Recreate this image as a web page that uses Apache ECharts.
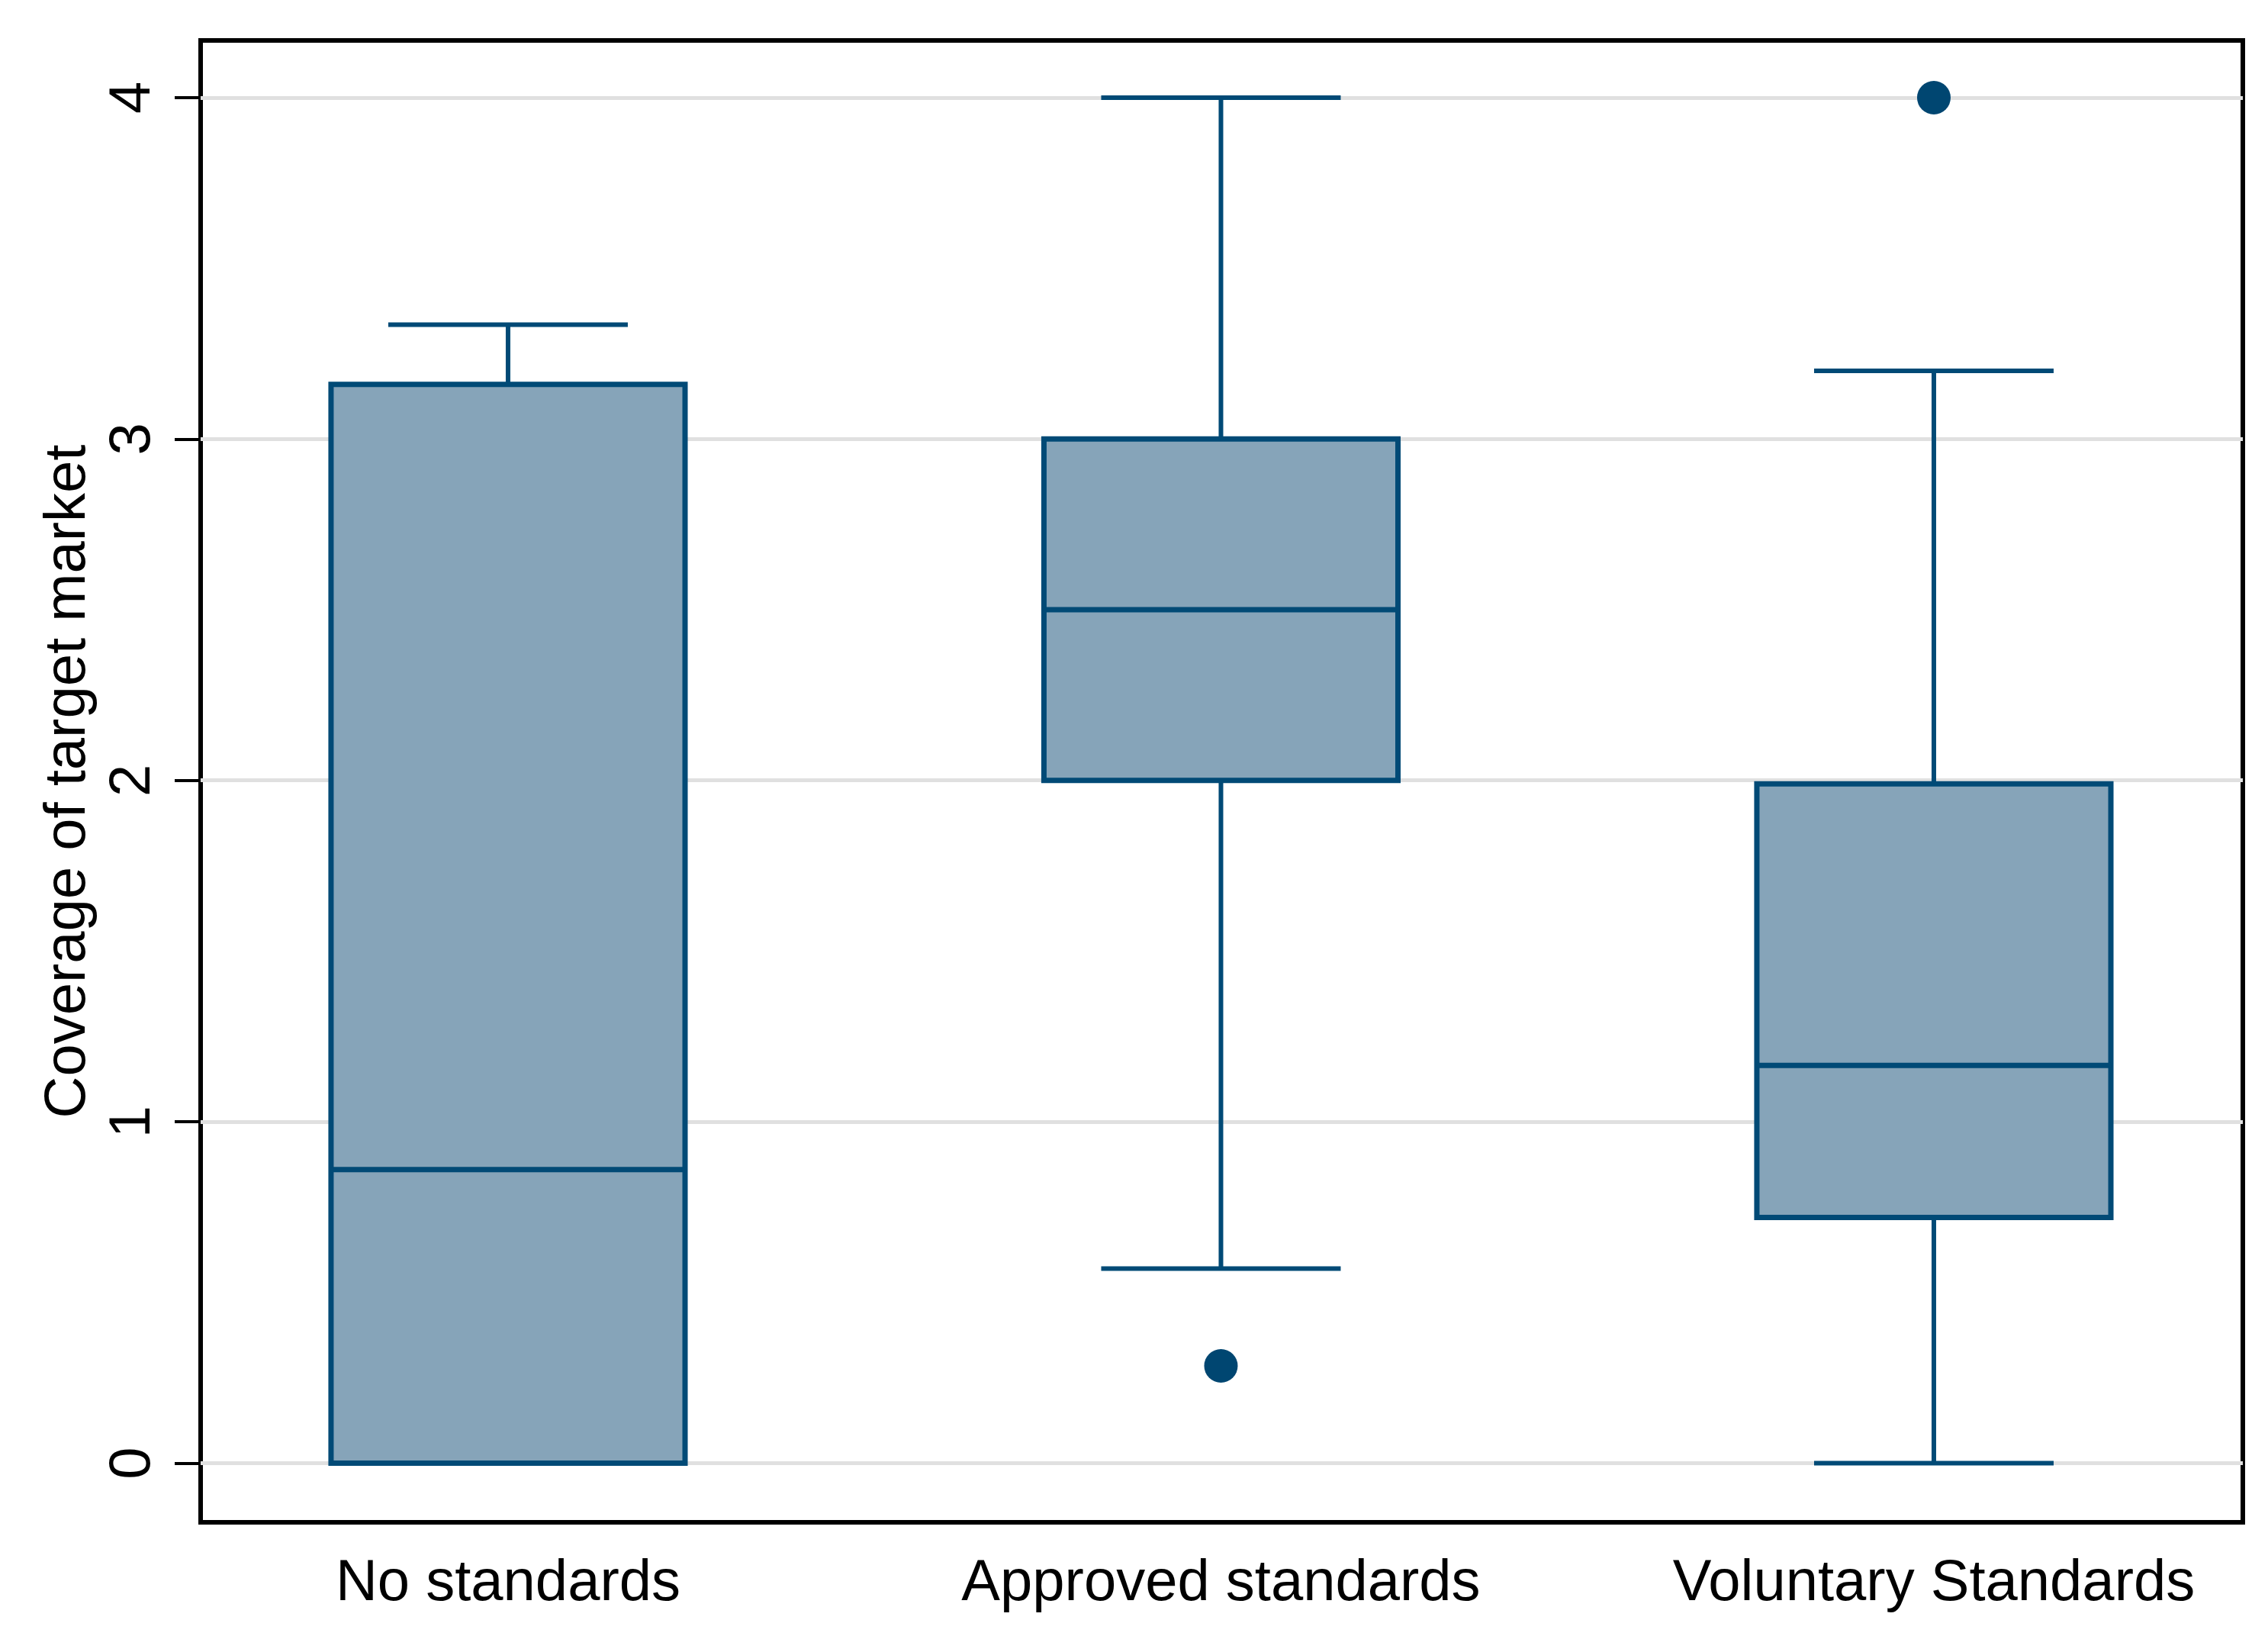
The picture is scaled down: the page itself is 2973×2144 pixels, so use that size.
<!DOCTYPE html>
<html>
<head>
<meta charset="utf-8">
<script src="https://cdn.jsdelivr.net/npm/echarts@6/dist/echarts.min.js"></script>
<style>
html,body{margin:0;padding:0;background:#fff;}
#chart{width:2973px;height:2144px;}
</style>
</head>
<body>
<div id="chart"></div>
<script>
// ---- data ----
const categories = ['No standards', 'Approved standards', 'Voluntary Standards'];
const whiskerLow  = [0,     0.57, 0];
const q1          = [0,     2.0,  0.72];
const median      = [0.86,  2.5,  1.165];
const q3          = [3.16,  3.0,  1.99];
const whiskerHigh = [3.335, 4.0,  3.2];
// outside values: [category position (1-based), value]
const outliers = [[2, 0.285], [3, 4.0]];
const yTickValues = [0, 1, 2, 3, 4];
const yAxisTitle = 'Coverage of target market';

// ---- styles ----
const NAVY = '#014a76';
const DOT = '#004671';
const FILL = '#86a4b9';
const FONT = 'Liberation Sans, Arial, sans-serif';

const boxData = categories.map((c, i) => [i + 1, whiskerLow[i], q1[i], median[i], q3[i], whiskerHigh[i]]);

function renderBox(params, api) {
  const x = api.value(0);
  const lo = api.coord([x, api.value(1)]);
  const b1 = api.coord([x, api.value(2)]);
  const md = api.coord([x, api.value(3)]);
  const b3 = api.coord([x, api.value(4)]);
  const hi = api.coord([x, api.value(5)]);
  const unit = api.size([1, 0])[0];
  const boxW = unit * 0.4966;
  const capW = unit * 0.336;
  const cx = lo[0];
  const wStyle = {stroke: NAVY, lineWidth: 6};
  const bStyle = {stroke: NAVY, lineWidth: 7};
  return {
    type: 'group',
    children: [
      {type: 'line', shape: {x1: cx, y1: b3[1], x2: cx, y2: hi[1]}, style: wStyle},
      {type: 'line', shape: {x1: cx, y1: b1[1], x2: cx, y2: lo[1]}, style: wStyle},
      {type: 'line', shape: {x1: cx - capW / 2, y1: hi[1], x2: cx + capW / 2, y2: hi[1]}, style: wStyle},
      {type: 'line', shape: {x1: cx - capW / 2, y1: lo[1], x2: cx + capW / 2, y2: lo[1]}, style: wStyle},
      {type: 'rect', shape: {x: cx - boxW / 2, y: b3[1], width: boxW, height: b1[1] - b3[1]},
        style: {fill: FILL, stroke: NAVY, lineWidth: 7}},
      {type: 'line', shape: {x1: cx - boxW / 2, y1: md[1], x2: cx + boxW / 2, y2: md[1]}, style: bStyle}
    ]
  };
}

const chart = echarts.init(document.getElementById('chart'), null, {renderer: 'canvas'});
chart.setOption({
  backgroundColor: '#ffffff',
  animation: false,
  textStyle: {fontFamily: FONT},
  grid: {
    left: 263, top: 53, width: 2677, height: 1942,
    show: true, borderColor: '#000000', borderWidth: 6, backgroundColor: '#ffffff',
    containLabel: false
  },
  xAxis: {
    type: 'value',
    min: 0.5688, max: 3.4334,
    axisLine: {show: false},
    axisTick: {show: false},
    splitLine: {show: false},
    axisLabel: {
      customValues: [1, 2, 3],
      formatter: (v) => categories[Math.round(v) - 1] || '',
      fontSize: 76, color: '#000', fontFamily: FONT, margin: 43
    }
  },
  yAxis: {
    type: 'value',
    min: -0.1732, max: 4.1676,
    name: yAxisTitle,
    nameLocation: 'middle',
    nameGap: 135,
    nameTextStyle: {fontSize: 76, color: '#000', fontFamily: FONT},
    axisLine: {show: false},
    splitLine: {show: false},
    axisTick: {
      show: true, customValues: yTickValues, length: 34, inside: false,
      lineStyle: {color: '#000', width: 4}
    },
    axisLabel: {
      customValues: yTickValues, rotate: 90,
      fontSize: 76, color: '#000', fontFamily: FONT, margin: 50
    }
  },
  series: [
    {
      type: 'custom',
      renderItem: renderBox,
      data: boxData,
      encode: {x: 0, y: [1, 2, 3, 4, 5]},
      z: 3,
      silent: true,
      markLine: {
        silent: true,
        symbol: 'none',
        z: 1,
        label: {show: false},
        lineStyle: {color: '#e0e0e0', width: 5, type: 'solid', opacity: 1},
        data: yTickValues.map(v => ({yAxis: v}))
      }
    },
    {
      type: 'scatter',
      data: outliers,
      symbol: 'circle',
      symbolSize: 44,
      itemStyle: {color: DOT, opacity: 1},
      z: 4,
      silent: true
    }
  ]
});
</script>
</body>
</html>
